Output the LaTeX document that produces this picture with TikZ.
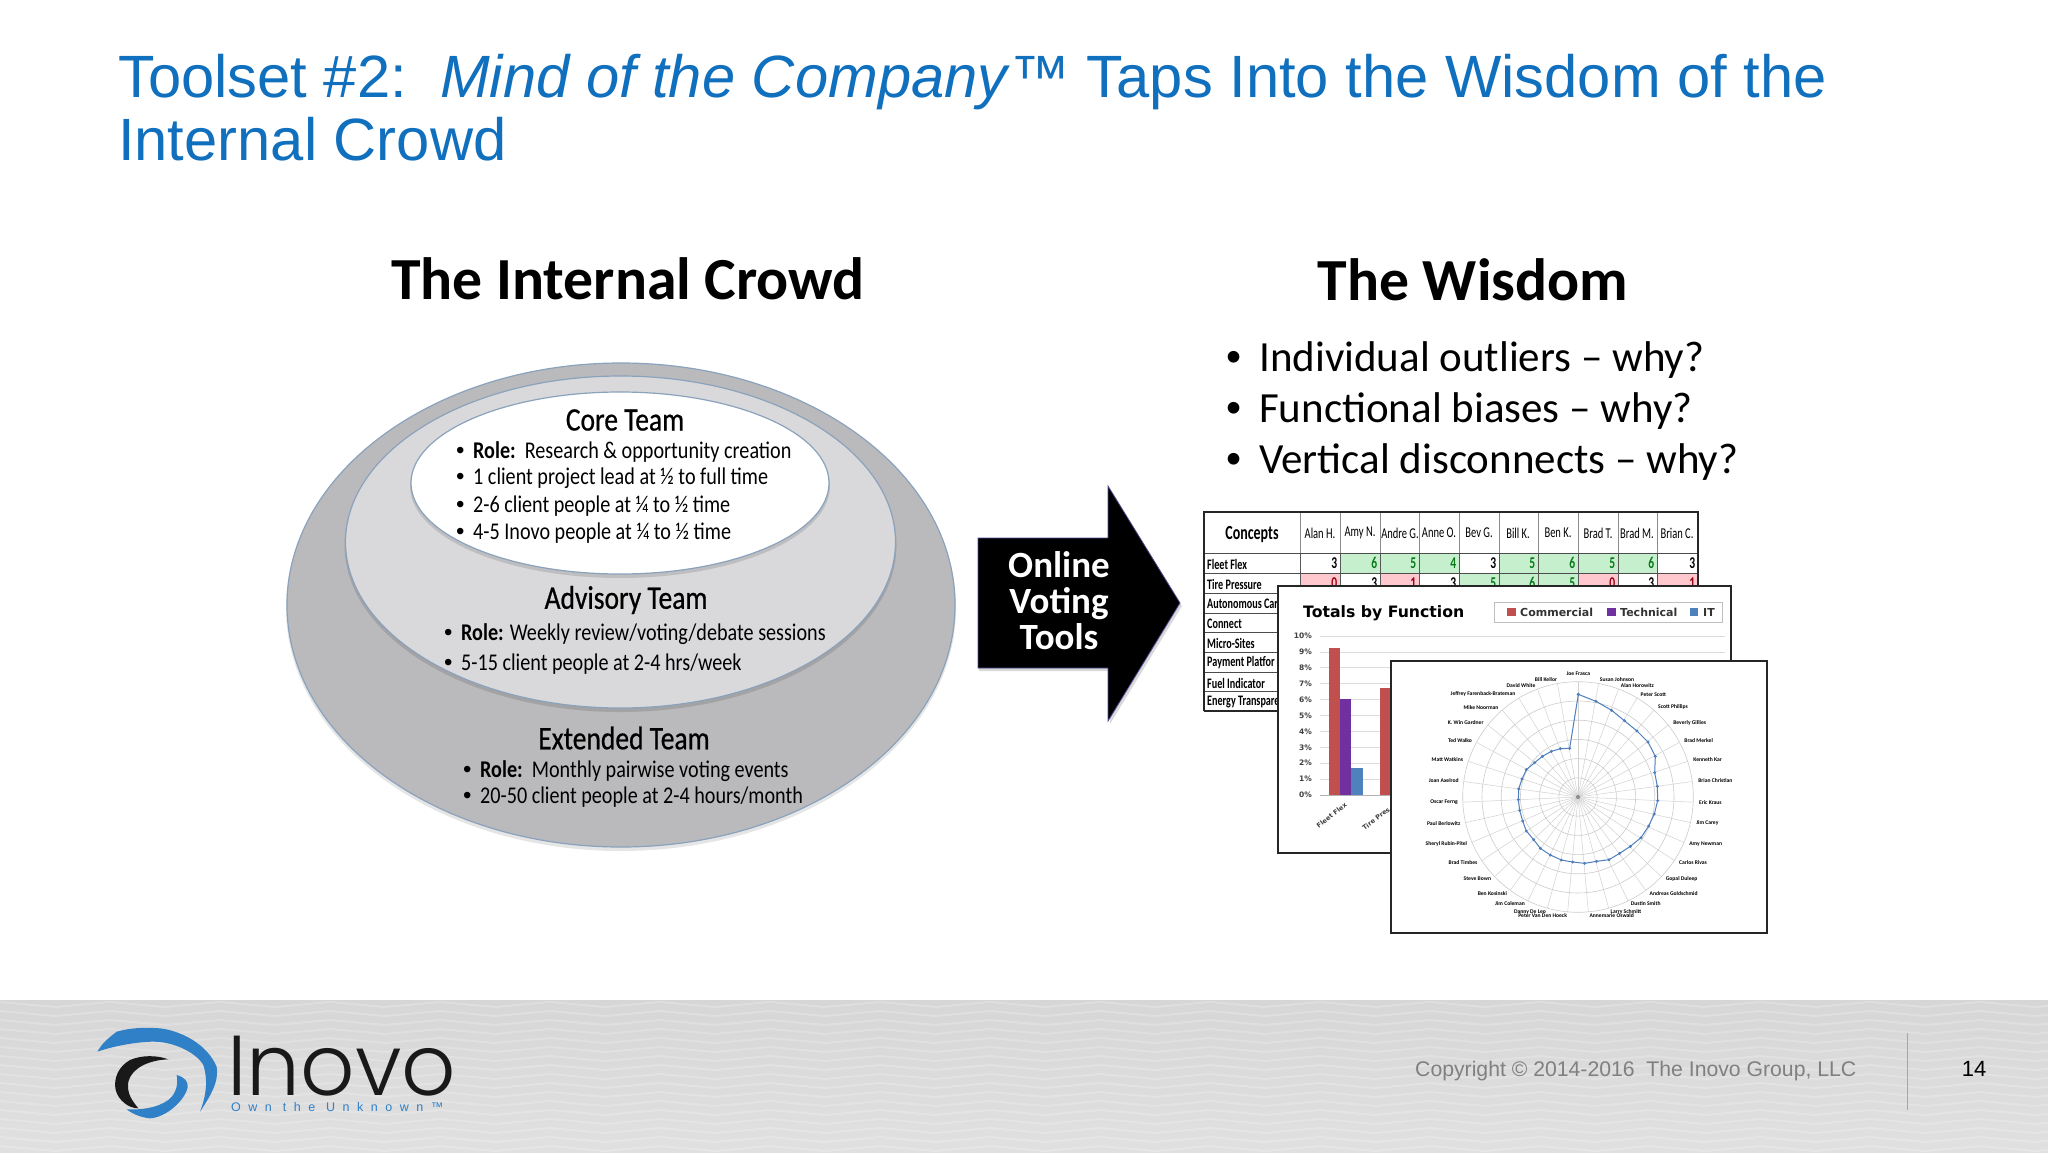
\documentclass[tikz,border=0pt]{standalone}
\usepackage{fontspec}
\setmainfont{Liberation Sans}
\newfontfamily\carlito{Carlito}
\newfontfamily\ellfont[FakeStretch=0.84]{Carlito}
\newfontfamily\headfont[FakeStretch=0.84,FakeBold=0.6]{Carlito}
\newfontfamily\tabfont[FakeStretch=0.70]{Carlito}
\newfontfamily\chartfont{DejaVu Sans}
\newfontfamily\logofont[UprightFont=* Light]{Poppins}
\newfontfamily\tagfont[LetterSpace=60]{Liberation Sans}
\definecolor{titleblue}{HTML}{1070BE}
\definecolor{edgeblue}{HTML}{8AA2BC}
\definecolor{outerfill}{HTML}{BABABC}
\definecolor{midfill}{HTML}{D9D9DB}
\definecolor{gridgray}{HTML}{DCDCDE}
\definecolor{cG}{HTML}{C6EFCE}
\definecolor{cR}{HTML}{FFC7CE}
\definecolor{tG}{HTML}{0A7A1A}
\definecolor{tR}{HTML}{A00010}
\definecolor{barR}{HTML}{C0504D}
\definecolor{barP}{HTML}{7030A0}
\definecolor{barB}{HTML}{4F81BD}
\definecolor{logoblue}{HTML}{2F80C6}
\definecolor{radarblue}{HTML}{4F7FBD}
\newcommand{\smallbul}[1]{\makebox[#1][l]{\rmfamily•}}
\tikzset{
  titletext/.style={anchor=base west,inner sep=0pt,text=titleblue,font=\fontsize{59.7}{60}\selectfont},
  heading/.style={inner sep=0pt,font=\carlito\bfseries\fontsize{59.7}{60}\selectfont},
  wisdomline/.style={anchor=base west,inner sep=0pt,font=\carlito\fontsize{43}{43}\selectfont},
  teamhead/.style={inner sep=0pt,font=\headfont\fontsize{32.8}{33}\selectfont},
  teamline/.style={anchor=base west,inner sep=0pt,font=\ellfont\fontsize{24}{24}\selectfont},
  arrowtext/.style={inner sep=0pt,text=white,font=\carlito\bfseries\fontsize{37}{37}\selectfont},
  tabhead/.style={inner sep=0pt,font=\tabfont\fontsize{15}{15}\selectfont},
  rowlabel/.style={anchor=west,inner sep=0pt,font=\tabfont\bfseries\fontsize{14.5}{15}\selectfont},
  cellnum/.style={anchor=east,inner sep=0pt,font=\tabfont\bfseries\fontsize{16.5}{17}\selectfont},
  axislabel/.style={anchor=east,inner sep=0pt,text=black!75,font=\chartfont\bfseries\fontsize{7.5}{7.5}\selectfont},
  legendtext/.style={anchor=west,inner sep=0pt,text=black!80,font=\chartfont\bfseries\fontsize{11}{11}\selectfont},
  radarlabel/.style={inner sep=0pt,font=\carlito\bfseries\fontsize{5.6}{5.6}\selectfont},
  chartbox/.style={fill=white,draw=black!85,line width=1.6pt},
  ellipseedge/.style={draw=edgeblue,line width=1.2pt},
}
\begin{document}
\begin{tikzpicture}[x=1pt,y=-1pt]
\useasboundingbox (0,0) rectangle (2048,1152);
\fill[white] (0,0) rectangle (2048,1152);

% title
\node[titletext] (title1) at (118,97) {Toolset \#2:\ \ \textit{Mind of the Company}™ Taps Into the Wisdom of the};
\node[titletext] (title2) at (118,160) {Internal Crowd};

% headings
\node[heading] (crowd) at (628,279) {The Internal Crowd};
\node[heading] (wisdom) at (1473,280) {The Wisdom};
\node[wisdomline] (w1) at (1226,371) {\smallbul{33pt}Individual outliers – why?};
\node[wisdomline] (w2) at (1226,422) {\smallbul{33pt}Functional biases – why?};
\node[wisdomline] (w3) at (1226,473) {\smallbul{33pt}Vertical disconnects – why?};

% ellipses
\fill[black,opacity=0.10] (621,608) ellipse[x radius=335pt,y radius=243pt];
\draw[ellipseedge,fill=outerfill] (621,605) ellipse[x radius=334pt,y radius=242pt];
\fill[black,opacity=0.12] (620.5,545) ellipse[x radius=276pt,y radius=167pt];
\draw[ellipseedge,fill=midfill] (620.5,542) ellipse[x radius=275pt,y radius=166pt];
\fill[black,opacity=0.12] (620,486) ellipse[x radius=210pt,y radius=92pt];
\draw[ellipseedge,fill=white] (620,483) ellipse[x radius=209pt,y radius=91pt];

\node[teamhead] (corehead) at (625,420) {Core Team};
\node[teamline] (c1) at (456,458) {\smallbul{17pt}\textbf{Role:}\ \ Research \& opportunity creation};
\node[teamline] (c2) at (456,484) {\smallbul{17pt}1 client project lead at ½ to full time};
\node[teamline] (c3) at (456,512) {\smallbul{17pt}2-6 client people at ¼ to ½ time};
\node[teamline] (c4) at (456,539) {\smallbul{17pt}4-5 Inovo people at ¼ to ½ time};
\node[teamhead] (advhead) at (626,600) {Advisory Team};
\node[teamline] (a1) at (444,640) {\smallbul{17pt}\textbf{Role:} Weekly review/voting/debate sessions};
\node[teamline] (a2) at (444,670) {\smallbul{17pt}5-15 client people at 2-4 hrs/week};
\node[teamhead] (exthead) at (624,738) {Extended Team};
\node[teamline] (e1) at (463,777) {\smallbul{17pt}\textbf{Role:}\ \ Monthly pairwise voting events};
\node[teamline] (e2) at (463,803) {\smallbul{17pt}20-50 client people at 2-4 hours/month};

% arrow
\fill[black,opacity=0.15] (979,541) -- (1110,541) -- (1110,490) -- (1182,606) -- (1110,724) -- (1110,671) -- (979,671) -- cycle;
\draw[fill=black,draw=black!60!blue!70!white,line width=0.8pt,line join=miter]
  (978,538) -- (1108,538) -- (1108,486) -- (1180,603) -- (1108,721) -- (1108,668) -- (978,668) -- cycle;
\node[arrowtext] (on) at (1059,565) {Online};
\node[arrowtext] (vo) at (1059,603.5) {Voting};
\node[arrowtext] (to) at (1059,637) {Tools};

% table
\foreach \xa/\xb/\v/\f/\t [count=\n] in {1300/1340/3/white/black,1340/1380/6/cG/tG,1380/1419/5/cG/tG,1419/1459/4/cG/tG,1459/1499/3/white/black,1499/1538/5/cG/tG,1538/1578/6/cG/tG,1578/1618/5/cG/tG,1618/1657/6/cG/tG,1657/1698/3/white/black}{
  \fill[\f] (\xa,553) rectangle (\xb,573);
  \node[cellnum,text=\t] (ra\n) at (\xb-2.5,563) {\v};
}
\foreach \xa/\xb/\v/\f/\t [count=\n] in {1300/1340/0/cR/tR,1340/1380/3/white/black,1380/1419/1/cR/tR,1419/1459/3/white/black,1459/1499/5/cG/tG,1499/1538/6/cG/tG,1538/1578/5/cG/tG,1578/1618/0/cR/tR,1618/1657/3/white/black,1657/1698/1/cR/tR}{
  \fill[\f] (\xa,573) rectangle (\xb,593);
  \node[cellnum,text=\t] (rb\n) at (\xb-2.5,583) {\v};
}
\foreach \cx/\nm [count=\n] in {1320/Alan H.,1360/Amy N.,1400/Andre G.,1439/Anne O.,1479/Bev G.,1518/Bill K.,1558/Ben K.,1598/Brad T.,1637/Brad M.,1677/Brian C.}{
  \node[tabhead] (hd\n) at (\cx,533) {\nm};
}
\foreach \x in {1300,1340,1380,1419,1459,1499,1538,1578,1618,1657}{
  \draw[black!45,line width=0.8pt] (\x,512) -- (\x,553);
  \draw[black!65,line width=0.8pt] (\x,553) -- (\x,593);
}
\foreach \y in {573,593,613,632,652,672,691}{
  \draw[black!70,line width=0.8pt] (1204,\y) -- (1698,\y);
}
\draw[black!70,line width=0.8pt] (1204,553) -- (1698,553);
\draw[black!85,line width=1.6pt] (1204,711) -- (1204,512) -- (1698,512) -- (1698,593);
\draw[black!85,line width=1.6pt] (1204,711) -- (1300,711);
\node[inner sep=0pt,font=\tabfont\bfseries\fontsize{20}{20}\selectfont] (concepts) at (1252,535) {Concepts};
\foreach \y/\nm [count=\n] in {564/Fleet Flex,584/Tire Pressure,604/Autonomous Car,624/Connect,643/Micro-Sites,663/Payment Platfor,683/Fuel Indicator,702/Energy Transpare}{
  \node[rowlabel] (rl\n) at (1207,\y) {\nm};
}

% bar chart
\draw[chartbox] (1278,586) rectangle (1731,853);
\node[anchor=base west,inner sep=0pt,font=\chartfont\bfseries\fontsize{15.7}{16}\selectfont] (charttitle) at (1303,617) {Totals by Function};
\foreach \lab [count=\n from 0] in {0,1,...,10}{
  \pgfmathsetmacro{\yy}{795-15.9*\lab}
  \draw[gridgray,line width=0.7pt] (1320,\yy) -- (1725,\yy);
  \node[axislabel] (ax\n) at (1312,\yy) {\lab\%};
}
\draw[black!30,line width=0.7pt] (1320,795) -- (1395,795);
\fill[barR] (1329,648) rectangle (1340,795);
\fill[barP] (1340,699) rectangle (1351,795);
\fill[barB] (1351,768) rectangle (1363,795);
\fill[barR] (1380,688) rectangle (1395,795);
\node[anchor=east,rotate=38,inner sep=0pt,text=black!75,font=\chartfont\bfseries\fontsize{6.5}{6.5}\selectfont] (ff) at (1346,804) {Fleet Flex};
\node[anchor=west,rotate=38,inner sep=0pt,text=black!75,font=\chartfont\bfseries\fontsize{6.5}{6.5}\selectfont] (tp) at (1363,829) {Tire Pres};
\draw[fill=white,draw=black!25,line width=0.8pt] (1494,602) rectangle (1722,622);
\fill[barR] (1507,608) rectangle (1516,616);
\node[legendtext] (lg1) at (1520,612) {Commercial};
\fill[barP] (1607,608) rectangle (1616,616);
\node[legendtext] (lg2) at (1620,612) {Technical};
\fill[barB] (1690,608) rectangle (1698,616);
\node[legendtext] (lg3) at (1703,612) {IT};

% radar chart
\draw[chartbox] (1391,661) rectangle (1767,933);
\coordinate (ctr) at (1578,797);
\foreach \i in {0,...,34}{
  \draw[black!18,line width=0.5pt] (ctr) -- ({1578+115.3*sin(\i*360/35)},{797-115.3*cos(\i*360/35)});
}
\foreach \r in {19.2,38.4,57.6,76.8,96,115.3}{
  \draw[black!20,line width=0.6pt] (ctr) circle[radius=\r pt];
}
\fill[black!45] (ctr) circle[radius=2pt];
\begin{scope}[shift={(1380,650)},x=0.33333pt,y=-0.33333pt]
\draw[radarblue,line width=1pt,mark=*,mark size=0.9pt,mark options={fill=radarblue,draw=radarblue}] plot coordinates {(595,133)(648,154)(695,181)(733,212)(771,243)(804,276)(826,319)(824,368)(832,409)(833,452)(823,492)(806,528)(783,563)(751,589)(719,610)(687,629)(650,634)(614,640)(578,636)(544,630)(511,615)(481,595)(461,569)(439,543)(428,513)(419,481)(415,449)(416,417)(426,387)(439,359)(464,338)(487,319)(514,304)(541,296)(569,295)(595,133)};
\foreach \px/\py/\nm [count=\n] in {595/72/Joe Frasca,711/89/Susan Johnson,772/106/Alan Horowitz,820/133/Peter Scott,879/172/Scott Phillips,929/218/Beverly Gillies,956/271/Brad Merkel,983/330/Kenneth Kar,1006/393/Brian Christian,991/457/Eric Kraus,982/520/Jim Carey,977/581/Amy Newman,939/637/Carlos Rivas,905/687/Gopal Duleep,881/730/Andreas Goldschmid,797/762/Dustin Smith,738/785/Larry Schmitt,695/797/Annemarie Oswald,488/797/Peter Van Den Hoeck,450/785/Danny De Leo,390/762/Jim Coleman,337/730/Ben Kosinski,292/687/Steve Bown,249/637/Brad Timbes,199/581/Sheryl Rubin-Pitel,191/520/Paul Berlowitz,192/457/Oscar Ferng,191/393/Joan Axelrod,202/330/Matt Watkins,240/271/Ted Walko,257/218/K. Win Gardner,303/172/Mike Noorman,309/133/Jeffrey Farenback-Brateman,423/106/David White,498/89/Bill Kellor}{
  \node[radarlabel] (lab\n) at (\px,\py) {\nm};
}
\end{scope}

% footer
\shade[top color=black!16,bottom color=black!12] (0,1000) rectangle (2048,1152);
\begin{scope}
\clip (0,1000) rectangle (2048,1152);
\foreach \yb in {996,1005,...,1160}{
  \draw[white,opacity=0.2,line width=2pt] plot[domain=-1:40,samples=42] ({\x*55},{\yb+5*(mod(abs(\x),2))-3});
}
\end{scope}
\draw[black!35,line width=0.7pt] (1907.5,1033) -- (1907.5,1110);
\node[anchor=base west,inner sep=0pt,text=black!50,font=\fontsize{21.2}{22}\selectfont] (copy) at (1415,1076) {Copyright © 2014-2016\ \ The Inovo Group, LLC};
\node[inner sep=0pt,font=\fontsize{22}{22}\selectfont] (pageno) at (1974,1069) {14};

% logo
\begin{scope}[shift={(60,1000)},x=0.33333pt,y=-0.33333pt]
\fill[logoblue] (112,155) .. controls (130,125) and (145,115) .. (170,95) .. controls (215,82) and (260,82) .. (300,85) .. controls (360,92) and (440,130) .. (470,200) .. controls (478,245) and (450,290) .. (420,335) .. controls (438,290) and (445,240) .. (430,195) .. controls (410,160) and (345,125) .. (280,125) .. controls (240,125) and (170,135) .. (112,155) -- cycle;
\fill[logoblue] (350,225) .. controls (375,232) and (385,245) .. (383,262) .. controls (375,300) and (320,352) .. (270,355) .. controls (240,352) and (215,340) .. (200,328) .. controls (240,330) and (290,325) .. (325,300) .. controls (350,280) and (355,250) .. (350,225) -- cycle;
\fill[black!90] (325,178) .. controls (290,165) and (245,165) .. (210,180) .. controls (175,200) and (160,235) .. (167,270) .. controls (175,300) and (205,325) .. (235,325) .. controls (215,300) and (200,280) .. (205,245) .. controls (215,205) and (265,180) .. (325,178) -- cycle;
\end{scope}
\node[anchor=base west,inner sep=0pt,text=black!90,font=\logofont\fontsize{85}{85}\selectfont] (inovo) at (227,1095) {Inovo};
\node[anchor=base west,inner sep=0pt,text=logoblue,font=\tagfont\fontsize{12.5}{12.5}\selectfont] (tagline) at (231,1111) {Own the Unknown™};
\end{tikzpicture}
\end{document}
